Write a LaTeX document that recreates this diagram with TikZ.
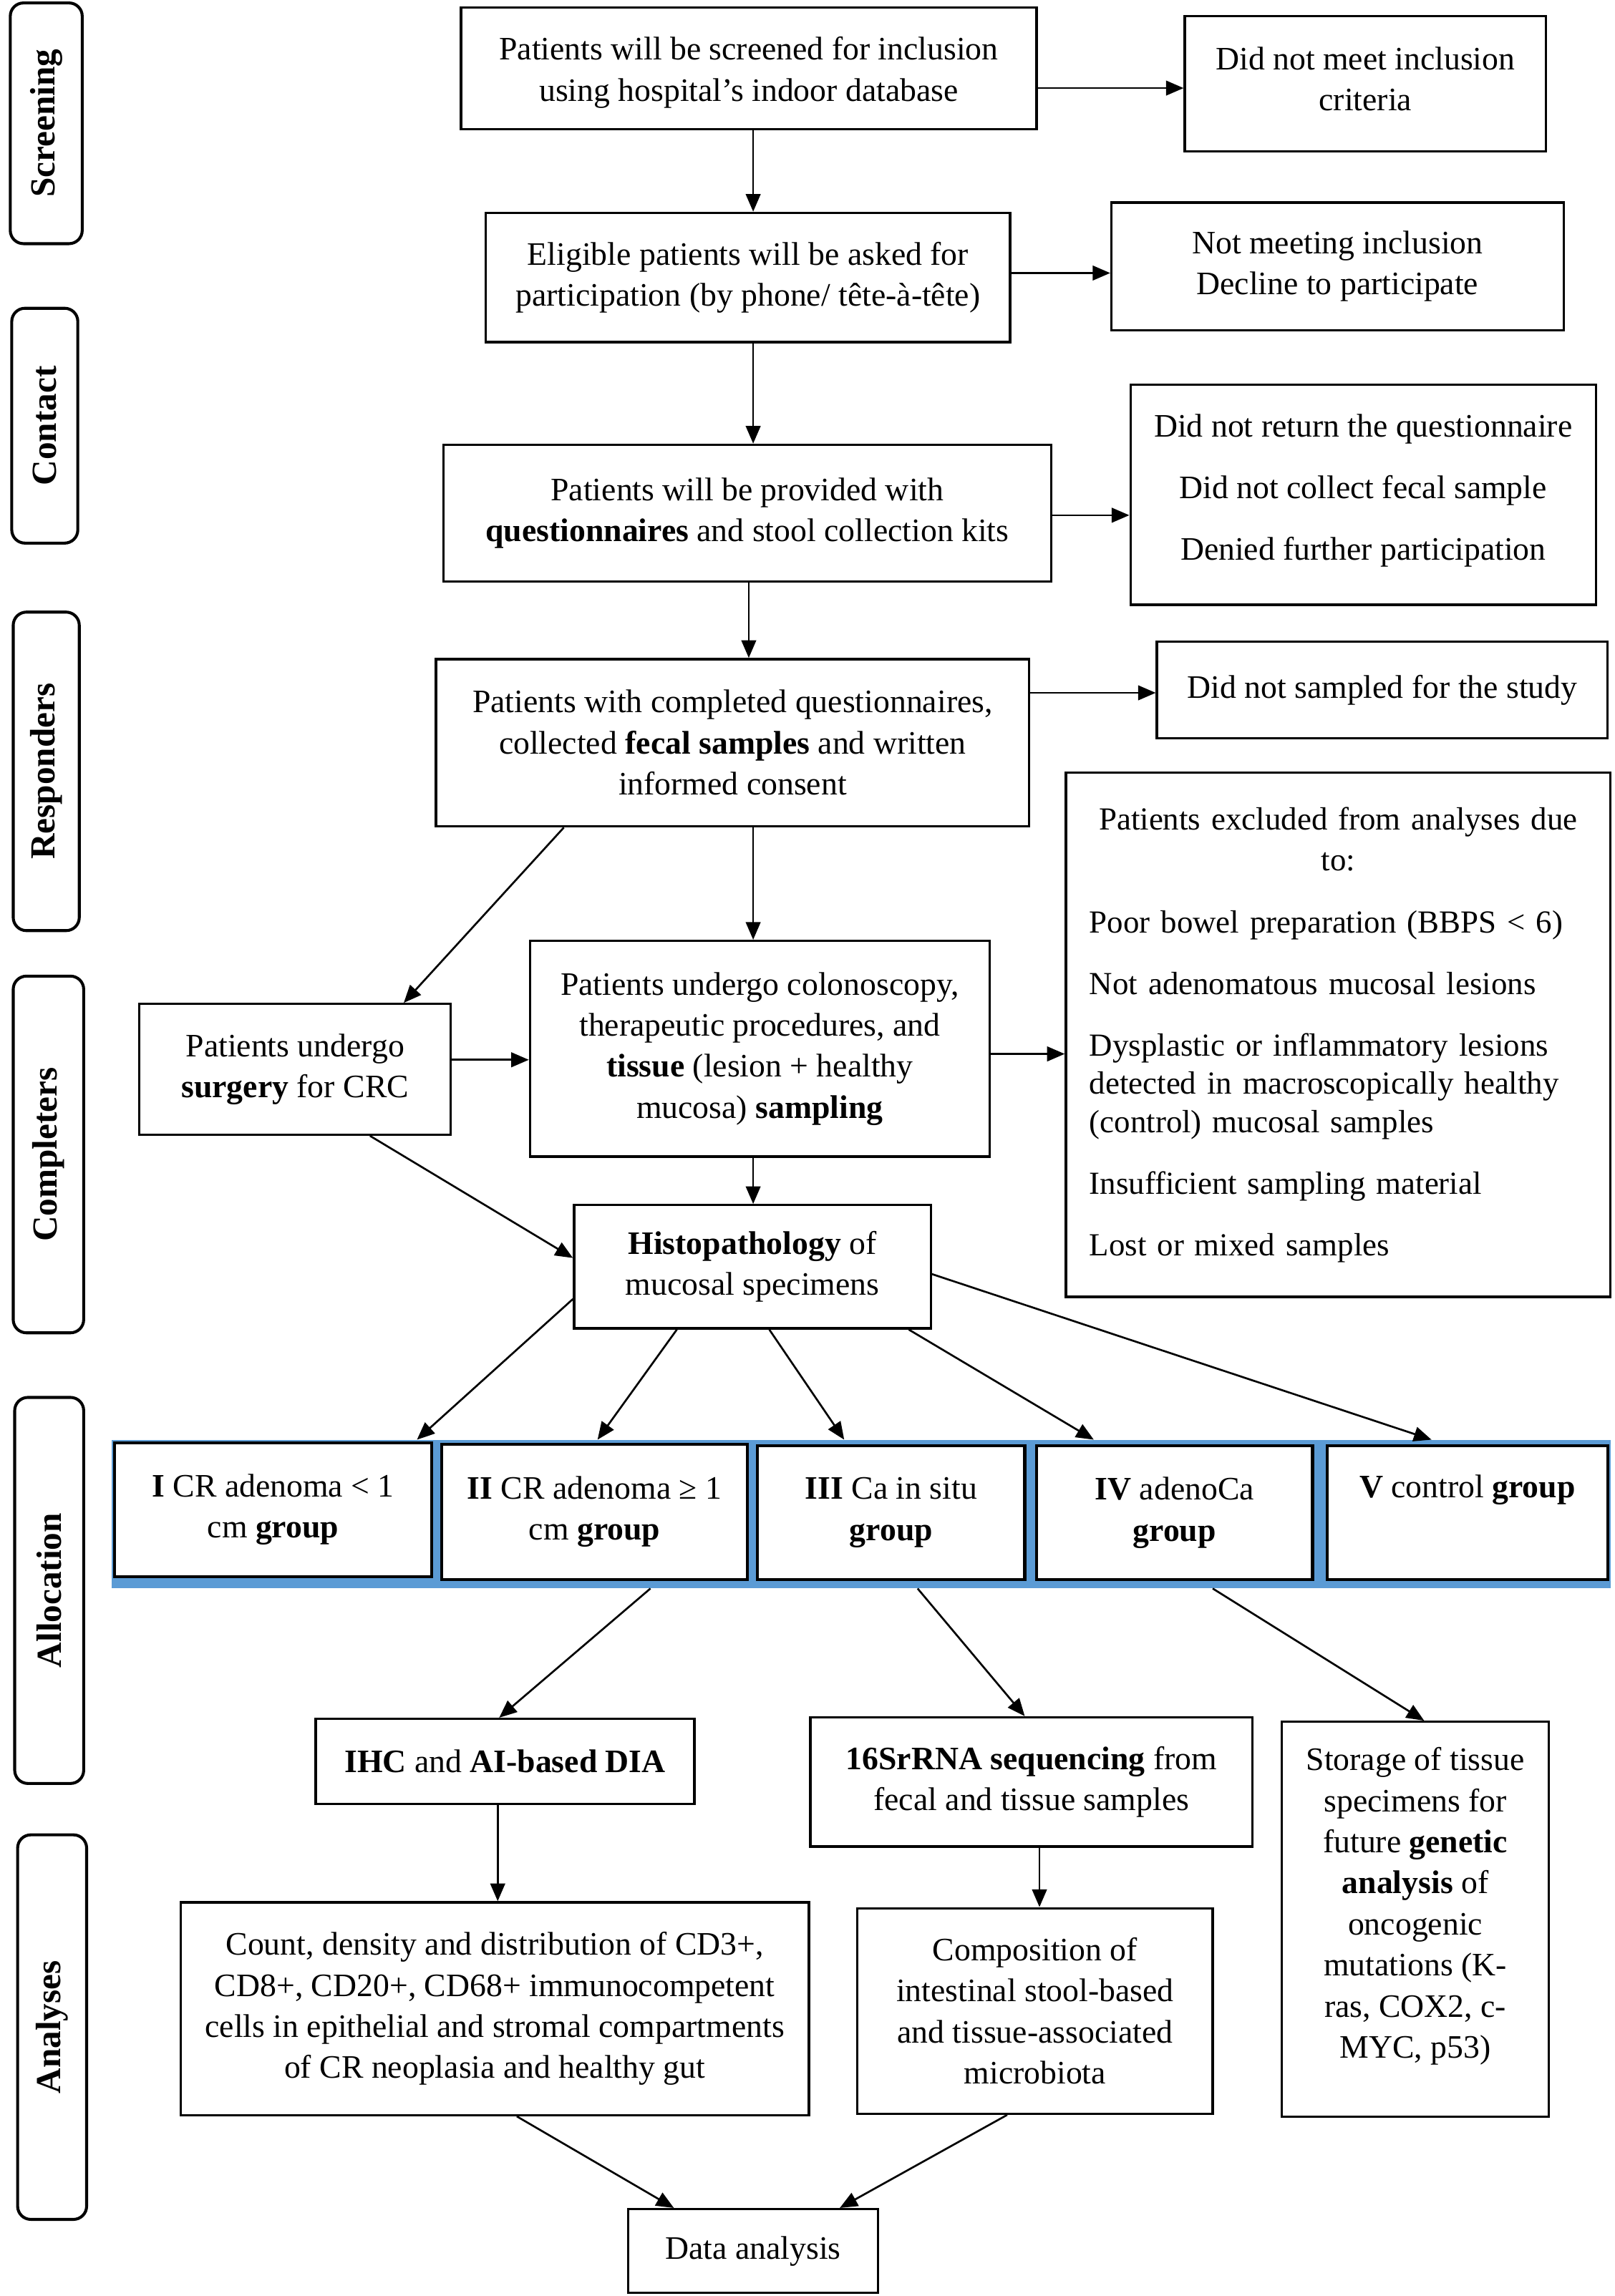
\documentclass[tikz,border=0pt]{standalone}
\usepackage{fontspec}
\setmainfont{Liberation Serif}
\usetikzlibrary{arrows.meta}
\definecolor{bandblue}{RGB}{91,155,213}
\begin{document}
\begin{tikzpicture}[x=1pt,y=-1pt,
  every node/.style={font=\fontsize{22.3}{28}\selectfont},
  box/.style={draw, line width=1.6pt, inner sep=0pt, align=center},
  plainbox/.style={draw, line width=1.6pt, inner ysep=0pt},
  grp/.style={draw, fill=white, line width=2pt, inner sep=0pt, align=center},
  lab/.style={draw, line width=2pt, rounded corners=9pt, inner sep=0pt, rotate=90, font=\fontsize{24}{28}\selectfont\bfseries},
  arr/.style={-{Triangle[length=12pt,width=10pt]}, line width=1.3pt}]
\fill[white] (0,0) rectangle (1100,1564.2);
\useasboundingbox (0,0) rectangle (1100,1564.2);

% stage labels
\node[lab, minimum width=164pt, minimum height=49pt] (scrL) at (31.5,84) {Screening};
\node[lab, minimum width=160pt, minimum height=45pt] (conL) at (30.5,290) {Contact};
\node[lab, minimum width=217pt, minimum height=45pt] (resL) at (31.5,525.5) {Responders};
\node[lab, minimum width=243pt, minimum height=48pt] (comL) at (33,786.5) {Completers};
\node[lab, minimum width=263pt, minimum height=47pt] (allL) at (33.5,1083.5) {Allocation};
\node[lab, minimum width=262pt, minimum height=47pt] (anaL) at (35.5,1381) {Analyses};

% main boxes
\node[box, minimum width=392pt, minimum height=83pt] (screen) at (510,46.5)
  {\strut\\[-26pt]Patients will be screened for inclusion\\using hospital’s indoor database};
\node[box, minimum width=246pt, minimum height=92pt] (notmeet) at (930,57)
  {Did not meet inclusion\\criteria\\[-30pt]\strut};
\node[box, minimum width=357pt, minimum height=88pt] (eligible) at (509.5,189)
  {Eligible patients will be asked for\\participation (by phone/ tête-à-tête)};
\node[box, minimum width=308pt, minimum height=87pt] (notmeeting) at (911,181.5)
  {Not meeting inclusion\\Decline to participate};
\node[box, minimum width=414pt, minimum height=93pt] (quest) at (509,349.5)
  {Patients will be provided with\\\textbf{questionnaires} and stool collection kits};
\node[box, minimum width=317pt, minimum height=150pt] (didnot) at (928.5,337)
  {Did not return the questionnaire\\[14pt]Did not collect fecal sample\\[14pt]Denied further participation\\[-26pt]\strut};
\node[box, minimum width=404pt, minimum height=114pt] (completed) at (499,506)
  {Patients with completed questionnaires,\\collected \textbf{fecal samples} and written\\informed consent};
\node[box, minimum width=307pt, minimum height=66pt] (notsampled) at (941.5,470)
  {Did not sampled for the study};
\node[plainbox, text width=339pt, inner xsep=16pt, minimum height=357pt,
      font=\fontsize{21.9}{28}\selectfont] (excl) at (911.5,705)
  {\parindent=0pt\parskip=14pt\raggedright
   {\centering Patients excluded from analyses due\\to:\par}
   Poor bowel preparation (BBPS < 6)\par
   Not adenomatous mucosal lesions\par
   \vspace{2pt}{\fontsize{21.9}{26}\selectfont Dysplastic or inflammatory lesions\\detected in macroscopically healthy\\(control) mucosal samples\par}
   Insufficient sampling material\par
   Lost or mixed samples\par};
\node[box, minimum width=212pt, minimum height=89pt] (surgery) at (201,728.5)
  {Patients undergo\\\textbf{surgery} for CRC};
\node[box, minimum width=313pt, minimum height=147pt] (colon) at (517.5,714.5)
  {Patients undergo colonoscopy,\\therapeutic procedures, and\\\textbf{tissue} (lesion + healthy\\mucosa) \textbf{sampling}};
\node[box, minimum width=243pt, minimum height=84pt] (histo) at (512.5,863)
  {\textbf{Histopathology} of\\mucosal specimens};

% allocation band
\node[fill=bandblue, inner sep=0pt, minimum width=1021pt, minimum height=101pt] (band) at (586.5,1031.5) {};
\node[grp, minimum width=216pt, minimum height=91pt] (g1) at (186,1028.5)
  {\textbf{I} CR adenoma < 1\\cm \textbf{group}};
\node[grp, minimum width=208pt, minimum height=92pt] (g2) at (405,1030)
  {\textbf{II} CR adenoma ≥ 1\\cm \textbf{group}};
\node[grp, minimum width=182pt, minimum height=91pt] (g3) at (607,1030.5)
  {\textbf{III} Ca in situ\\\textbf{group}};
\node[grp, minimum width=188pt, minimum height=91pt] (g4) at (800,1030.5)
  {\textbf{IV} adenoCa\\\textbf{group}};
\node[grp, minimum width=191pt, minimum height=91pt] (g5) at (999.5,1030.5)
  {\textbf{V} control \textbf{group}\\\strut};

% analyses
\node[box, minimum width=258pt, minimum height=58pt] (ihc) at (344,1200)
  {\textbf{IHC} and \textbf{AI-based DIA}};
\node[box, minimum width=301pt, minimum height=88pt] (s16) at (702.5,1214)
  {\textbf{16SrRNA sequencing} from\\fecal and tissue samples};
\node[box, minimum width=182pt, minimum height=269pt] (stor) at (964,1307.5)
  {Storage of tissue\\specimens for\\future \textbf{genetic}\\\textbf{analysis} of\\oncogenic\\mutations (K-\\ras, COX2, c-\\MYC, p53)\\[-14pt]\strut};
\node[box, minimum width=428pt, minimum height=145pt] (count) at (337,1368.5)
  {Count, density and distribution of CD3+,\\CD8+, CD20+, CD68+ immunocompetent\\cells in epithelial and stromal compartments\\of CR neoplasia and healthy gut};
\node[box, minimum width=242pt, minimum height=140pt] (comp) at (705,1370)
  {Composition of\\intestinal stool-based\\and tissue-associated\\microbiota};
\node[box, minimum width=170pt, minimum height=57pt] (data) at (513,1533.5)
  {Data analysis};

% connectors
\draw[arr] (513,0 |- screen.south) -- (513,0 |- eligible.north);
\draw[arr] (screen.east |- 0,60) -- (notmeet.west |- 0,60);
\draw[arr] (eligible.east |- 0,186) -- (notmeeting.west |- 0,186);
\draw[arr] (513,0 |- eligible.south) -- (513,0 |- quest.north);
\draw[arr] (quest.east |- 0,351) -- (didnot.west |- 0,351);
\draw[arr] (510,0 |- quest.south) -- (510,0 |- completed.north);
\draw[arr] (completed.east |- 0,472) -- (notsampled.west |- 0,472);
\draw[arr] (384,0 |- completed.south) -- (275,0 |- surgery.north);
\draw[arr] (513,0 |- completed.south) -- (513,0 |- colon.north);
\draw[arr] (surgery.east |- 0,722) -- (colon.west |- 0,722);
\draw[arr] (colon.east |- 0,718) -- (excl.west |- 0,718);
\draw[arr] (513,0 |- colon.south) -- (513,0 |- histo.north);
\draw[arr] (252,0 |- surgery.south) -- (histo.west |- 0,857);
\draw[arr] (histo.west |- 0,885) -- (284,0 |- band.north);
\draw[arr] (461,0 |- histo.south) -- (407,0 |- band.north);
\draw[arr] (524,0 |- histo.south) -- (575,0 |- band.north);
\draw[arr] (619,0 |- histo.south) -- (745,0 |- band.north);
\draw[arr] (histo.east |- 0,868) -- (975,0 |- band.north);
\draw[arr] (443,0 |- band.south) -- (340,0 |- ihc.north);
\draw[arr] (625,0 |- band.south) -- (698,0 |- s16.north);
\draw[arr] (826,0 |- band.south) -- (970,0 |- stor.north);
\draw[arr] (339,0 |- ihc.south) -- (339,0 |- count.north);
\draw[arr] (708,0 |- s16.south) -- (708,0 |- comp.north);
\draw[arr] (352,0 |- count.south) -- (459,0 |- data.north);
\draw[arr] (686,0 |- comp.south) -- (572,0 |- data.north);
\end{tikzpicture}
\end{document}
